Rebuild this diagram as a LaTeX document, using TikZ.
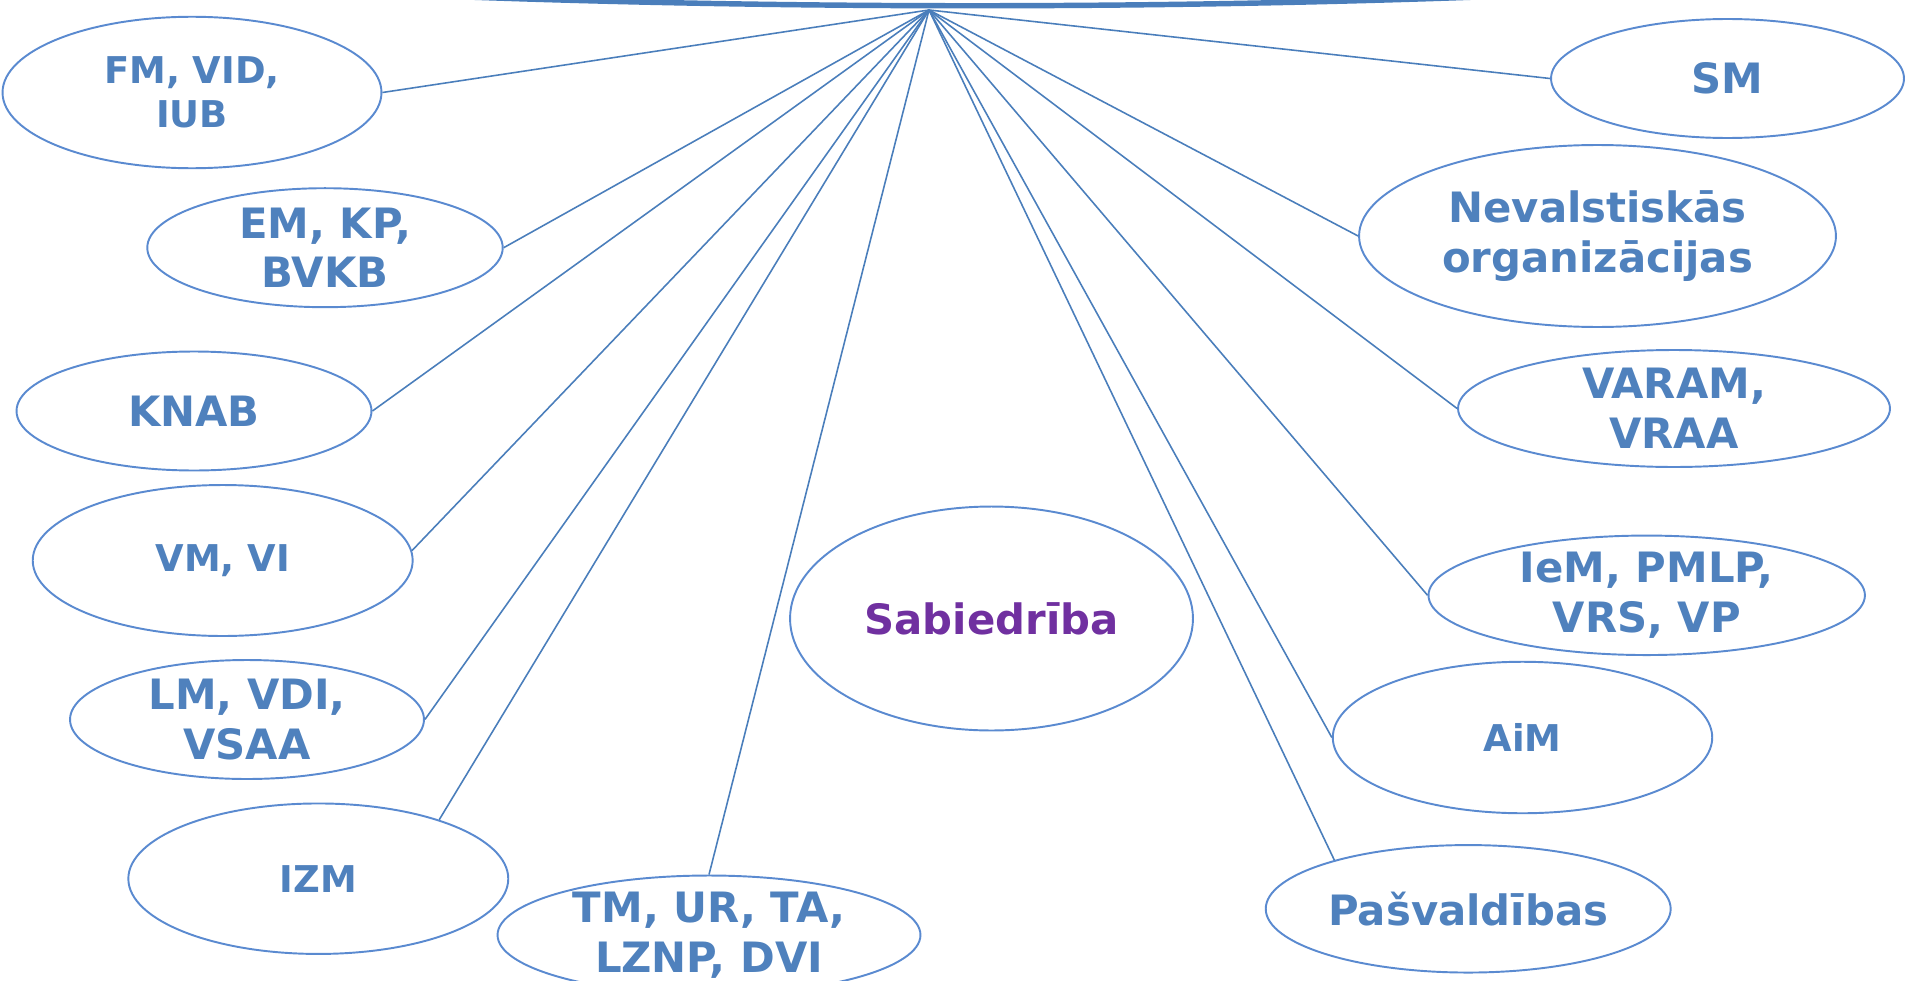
\documentclass[tikz,border=0pt]{standalone}
\usepackage{fontspec}
\setmainfont{DejaVu Sans}
\usetikzlibrary{shapes.geometric}
\definecolor{txtblue}{HTML}{4F81BD}
\definecolor{lineblue}{HTML}{4A7EBB}
\definecolor{ellblue}{HTML}{5A8AD0}
\definecolor{purp}{HTML}{7030A0}
\begin{document}
\begin{tikzpicture}[x=0.02cm,y=-0.02cm,
  ell/.style={ellipse, draw=ellblue, line width=1.1pt, inner sep=0pt},
  bigtxt/.style={text=txtblue, font=\bfseries\fontsize{23.8}{28.2}\selectfont, align=center, inner sep=0pt},
  smalltxt/.style={text=txtblue, font=\bfseries\fontsize{21}{24.8}\selectfont, align=center, inner sep=0pt},
  link/.style={draw=lineblue, line width=0.9pt},
  bow/.style={draw=lineblue, line width=3.1pt}]
\useasboundingbox (0,0) rectangle (1905,980);
\clip (0,0) rectangle (1905,980);

% top bow
\draw[bow] (440,-4) .. controls (780,9) and (1165,9) .. (1505,-4);
\coordinate (hub) at (929,10);

% left column
\node[ell, minimum width=7.58cm, minimum height=3.03cm] (fm) at (192,92.5) {};
\node[smalltxt] (fmt) at (fm) {FM, VID,\\IUB};
\node[ell, minimum width=7.11cm, minimum height=2.38cm] (em) at (325,247.7) {};
\node[bigtxt] (emt) at (em) {EM, KP,\\BVKB};
\node[ell, minimum width=7.10cm, minimum height=2.38cm] (knab) at (194,411) {};
\node[bigtxt] (knabt) at (knab) {KNAB};
\node[ell, minimum width=7.60cm, minimum height=3.02cm] (vm) at (222.7,560.5) {};
\node[smalltxt] (vmt) at (vm) {VM, VI};
\node[ell, minimum width=7.08cm, minimum height=2.38cm] (lm) at (247,719.5) {};
\node[bigtxt] (lmt) at (lm) {LM, VDI,\\VSAA};
\node[ell, minimum width=7.60cm, minimum height=3.01cm] (izm) at (318.3,878.7) {};
\node[smalltxt] (izmt) at (izm) {IZM};
\node[ell, minimum width=8.46cm, minimum height=2.38cm] (tm) at (709,935) {};
\node[bigtxt] (tmt) at (tm) {TM, UR, TA,\\LZNP, DVI};

% centre
\node[ell, minimum width=8.06cm, minimum height=4.48cm] (sab) at (991.5,618.5) {};
\node[bigtxt, text=purp] (sabt) at (sab) {Sabiedrība};

% right column
\node[ell, minimum width=7.06cm, minimum height=2.38cm] (sm) at (1727.5,78.5) {};
\node[bigtxt] (smt) at (sm) {SM};
\node[ell, minimum width=9.54cm, minimum height=3.64cm] (nev) at (1597.5,236) {};
\node[bigtxt] (nevt) at (nev) {Nevalstiskās\\organizācijas};
\node[ell, minimum width=8.64cm, minimum height=2.34cm] (var) at (1674,408.5) {};
\node[bigtxt] (vart) at (var) {VARAM,\\VRAA};
\node[ell, minimum width=8.73cm, minimum height=2.39cm] (iem) at (1646.7,595.3) {};
\node[bigtxt] (iemt) at (iem) {IeM, PMLP,\\VRS, VP};
\node[ell, minimum width=7.59cm, minimum height=3.03cm] (aim) at (1522.5,737.5) {};
\node[smalltxt] (aimt) at (aim) {AiM};
\node[ell, minimum width=8.10cm, minimum height=2.55cm] (pas) at (1468.2,908.8) {};
\node[bigtxt] (past) at (pas) {Pašvaldības};

% connectors
\draw[link] (hub) -- (fm.east);
\draw[link] (hub) -- (em.east);
\draw[link] (hub) -- (knab.east);
\draw[link] (hub) -- (vm.3);
\draw[link] (hub) -- (lm.east);
\draw[link] (hub) -- (izm.26);
\draw[link] (hub) -- (tm.north);
\draw[link] (hub) -- (sm.west);
\draw[link] (hub) -- (nev.west);
\draw[link] (hub) -- (var.west);
\draw[link] (hub) -- (iem.west);
\draw[link] (hub) -- (aim.west);
\draw[link] (hub) -- (pas.160);
\end{tikzpicture}
\end{document}
